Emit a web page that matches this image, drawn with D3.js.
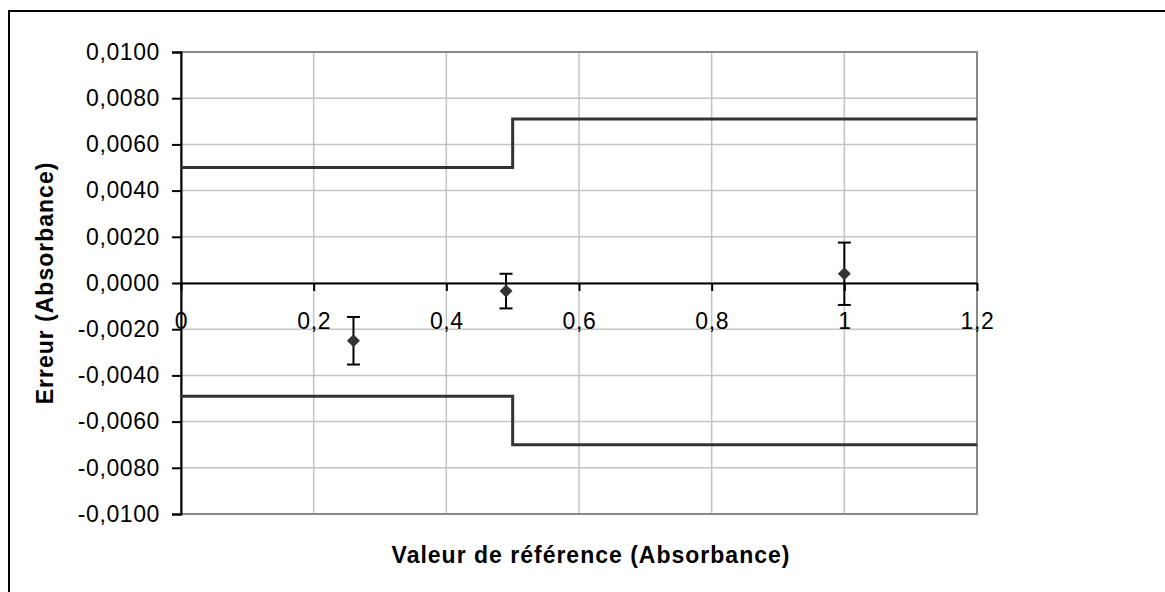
<!DOCTYPE html>
<html>
<head>
<meta charset="utf-8">
<script src="https://cdn.jsdelivr.net/npm/d3@7"></script>
<style>
  body { margin: 0; background: #fff; }
  svg { font-family: Arial, "Liberation Sans", sans-serif; }
</style>
</head>
<body>
<svg id="chart" width="1165" height="592"></svg>
<script>
// measured points (reference value, error, half-width of error bar)
let refValues = [0.26, 0.49, 1.0]
let errValues = [-0.0025, -0.00035, 0.0004]
let errBars = [0.00103, 0.00075, 0.00135]

// tolerance limits (step lines)
let limitX = [0, 0.5, 1.2]
let upperLimit = [0.005, 0.0071, 0.0071]
let lowerLimit = [-0.0049, -0.007, -0.007]

let xTicks = [0, 0.2, 0.4, 0.6, 0.8, 1, 1.2]
let yTicks = [-0.01, -0.008, -0.006, -0.004, -0.002, 0, 0.002, 0.004, 0.006, 0.008, 0.01]

let margin = { top: 52, right: 188, bottom: 78, left: 181 }
let width = 1165
let height = 592

let svg = d3.select("#chart")

// outer frame, runs off the right and bottom edges like the reference
svg.append("rect")
    .attr("x", 9)
    .attr("y", 11)
    .attr("width", 1200)
    .attr("height", 640)
    .style("fill", "none")
    .style("stroke", "#000")
    .style("stroke-width", 2)

let x = d3.scaleLinear()
    .domain([0, 1.2])
    .range([margin.left, width - margin.right])

let y = d3.scaleLinear()
    .domain([-0.01, 0.01])
    .range([height - margin.bottom, margin.top])

let fmtY = v => d3.format(".4f")(v).replace(".", ",").replace("−", "-")
let fmtX = v => String(v).replace(".", ",")

// gridlines
svg.append("g")
    .selectAll("line")
    .data(yTicks)
    .join("line")
    .attr("x1", x(0))
    .attr("x2", x(1.2))
    .attr("y1", d => y(d))
    .attr("y2", d => y(d))
    .style("stroke", "#c4c4c4")
    .style("stroke-width", 1.5)

svg.append("g")
    .selectAll("line")
    .data(xTicks.slice(1))
    .join("line")
    .attr("x1", d => x(d))
    .attr("x2", d => x(d))
    .attr("y1", y(0.01))
    .attr("y2", y(-0.01))
    .style("stroke", "#c4c4c4")
    .style("stroke-width", 1.5)

// plot area border
svg.append("rect")
    .attr("x", x(0))
    .attr("y", y(0.01))
    .attr("width", x(1.2) - x(0))
    .attr("height", y(-0.01) - y(0.01))
    .style("fill", "none")
    .style("stroke", "#888")
    .style("stroke-width", 2)

// y axis
let yAxisSettings = d3.axisLeft(y)
    .tickValues(yTicks)
    .tickSize(9)
    .tickPadding(12)
    .tickFormat(fmtY)

let yAxis = svg.append("g")
    .attr("class", "y axis")
    .attr("transform", `translate(${x(0)},0)`)
    .call(yAxisSettings)

yAxis.select(".domain").style("stroke", "#000").style("stroke-width", 2)
yAxis.selectAll(".tick line").style("stroke", "#000").style("stroke-width", 2)
yAxis.selectAll("text")
    .style("font-size", "23px")
    .style("letter-spacing", "0.6px")
    .style("fill", "#000")
    .style("font-family", "Arial, 'Liberation Sans', sans-serif")

// x axis sits on zero
let xAxisSettings = d3.axisBottom(x)
    .tickValues(xTicks)
    .tickSizeInner(8)
    .tickSizeOuter(0)
    .tickPadding(22)
    .tickFormat(fmtX)

let xAxis = svg.append("g")
    .attr("class", "x axis")
    .attr("transform", `translate(0,${y(0)})`)
    .call(xAxisSettings)

xAxis.select(".domain").style("stroke", "#000").style("stroke-width", 2)
xAxis.selectAll(".tick line").style("stroke", "#000").style("stroke-width", 2)
xAxis.selectAll("text")
    .style("font-size", "23px")
    .style("letter-spacing", "0.6px")
    .style("fill", "#000")
    .style("font-family", "Arial, 'Liberation Sans', sans-serif")

// limit lines
let stepLine = d3.line()
    .x(d => x(d[0]))
    .y(d => y(d[1]))
    .curve(d3.curveStepAfter)

let limits = [
  limitX.map((v, i) => [v, upperLimit[i]]),
  limitX.map((v, i) => [v, lowerLimit[i]])
]

svg.append("g")
    .selectAll("path")
    .data(limits)
    .join("path")
    .attr("d", d => stepLine(d))
    .style("fill", "none")
    .style("stroke", "#333")
    .style("stroke-width", 3)

// error bars
let points = refValues.map((v, i) => ({ x: v, y: errValues[i], e: errBars[i] }))

let bars = svg.append("g")
    .selectAll("g")
    .data(points)
    .join("g")

bars.append("line")
    .attr("x1", d => x(d.x))
    .attr("x2", d => x(d.x))
    .attr("y1", d => y(d.y + d.e))
    .attr("y2", d => y(d.y - d.e))
    .style("stroke", "#000")
    .style("stroke-width", 2)

bars.selectAll(".cap")
    .data(d => [d.y + d.e, d.y - d.e].map(v => ({ x: d.x, y: v })))
    .join("line")
    .attr("class", "cap")
    .attr("x1", d => x(d.x) - 6.5)
    .attr("x2", d => x(d.x) + 6.5)
    .attr("y1", d => y(d.y))
    .attr("y2", d => y(d.y))
    .style("stroke", "#000")
    .style("stroke-width", 2)

// diamond markers
svg.append("g")
    .selectAll("path")
    .data(points)
    .join("path")
    .attr("transform", d => `translate(${x(d.x)},${y(d.y)})`)
    .attr("d", "M0,-6.5L6.5,0L0,6.5L-6.5,0Z")
    .style("fill", "#333")

// axis titles
svg.append("text")
    .attr("text-anchor", "middle")
    .attr("x", 591)
    .attr("y", 563)
    .style("fill", "#000")
    .style("font-size", "23px")
    .style("letter-spacing", "1px")
    .style("font-weight", "bold")
    .text("Valeur de référence (Absorbance)")

svg.append("text")
    .attr("text-anchor", "middle")
    .attr("transform", `translate(53,${(y(0.01) + y(-0.01)) / 2}) rotate(-90)`)
    .style("fill", "#000")
    .style("font-size", "23px")
    .style("letter-spacing", "1px")
    .style("font-weight", "bold")
    .text("Erreur (Absorbance)")
</script>
</body>
</html>
